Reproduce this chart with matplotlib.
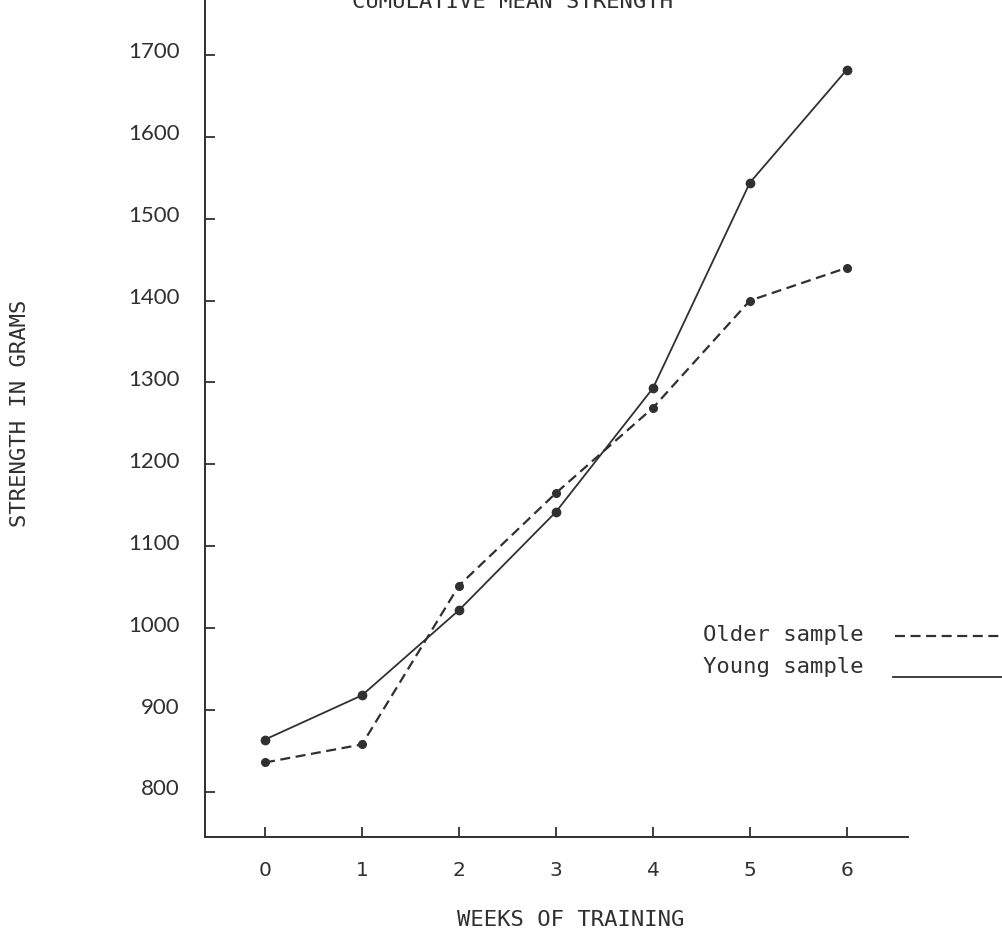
import matplotlib
matplotlib.use("Agg")
import matplotlib.pyplot as plt
from matplotlib.lines import Line2D
import matplotlib.transforms as mtransforms

# ---- data ----
weeks = [0, 1, 2, 3, 4, 5, 6]
young = [864, 918, 1022, 1142, 1293, 1544, 1682]
older = [836, 858, 1052, 1165, 1269, 1400, 1440]
y_ticks = [800, 900, 1000, 1100, 1200, 1300, 1400, 1500, 1600, 1700]
x_tick_labels = ["0", "1", "2", "3", "4", "5", "6"]
y_tick_labels = ["800", "900", "1000", "1100", "1200", "1300", "1400", "1500", "1600", "1700"]
title = "CUMULATIVE MEAN STRENGTH"
x_label = "WEEKS OF TRAINING"
y_label = "STRENGTH IN GRAMS"
series_labels = ["Older sample", "Young sample"]

W, H = 1003, 934
ink = "#303030"
mono = "DejaVu Sans Mono"

fig = plt.figure(figsize=(W / 100, H / 100), dpi=100)
fig.patch.set_facecolor("white")
ax = fig.add_axes([205 / W, (H - 837) / H, (908 - 205) / W, 837 / H])

young_style = dict(color=ink, lw=1.3, ls="-")
older_style = dict(color=ink, lw=1.6, ls=(0, (4.5, 2.5)))

ax.plot(weeks, young, marker="o", ms=6, **young_style, clip_on=False)
ax.plot(weeks, older, marker="o", ms=5.5, **older_style, clip_on=False)

ax.set_xlim(-0.619, 6.63)
ax.set_ylim(745, 1767)

for s in ("top", "right"):
    ax.spines[s].set_visible(False)
for s in ("left", "bottom"):
    ax.spines[s].set_color(ink)
    ax.spines[s].set_linewidth(1.4)

ax.set_xticks(weeks)
ax.set_xticklabels(x_tick_labels, family="DejaVu Sans", fontsize=14.5, color=ink)
ax.set_yticks(y_ticks)
ax.set_yticklabels(y_tick_labels, family="Lato", fontsize=16, color=ink)
ax.tick_params(axis="both", direction="in", length=7, width=1.3, color=ink)
ax.tick_params(axis="x", pad=17)
ax.tick_params(axis="y", pad=18)

# y tick labels sit slightly above their ticks in the original
off = mtransforms.ScaledTranslation(0, 4.5 / 100, fig.dpi_scale_trans)
for lab in ax.get_yticklabels():
    lab.set_transform(lab.get_transform() + off)

ax.set_xlabel(x_label, family=mono, fontsize=16, color=ink)
ax.xaxis.label.set_verticalalignment("center")
ax.xaxis.set_label_coords((571 - 205) / 703, (837 - 920) / 837)
ax.set_ylabel(y_label, family=mono, fontsize=16, color=ink)
ax.yaxis.label.set_verticalalignment("center")
ax.yaxis.label.set_horizontalalignment("center")
ax.yaxis.set_label_coords((20 - 205) / 703, (837 - 413) / 837)

ax.set_title(title, x=(513 - 205) / 703, y=(837 - 8) / 837, pad=0,
             family=mono, fontsize=16, color=ink, va="baseline")

# ---- legend (labels left, line samples right) ----
fig.text(703 / W, 1 - 635 / H, series_labels[0], family=mono, fontsize=16,
         color=ink, va="center", ha="left")
fig.text(703 / W, 1 - 667 / H, series_labels[1], family=mono, fontsize=16,
         color=ink, va="center", ha="left")
fig.add_artist(Line2D([895 / W, 1003 / W], [1 - 636 / H, 1 - 636 / H],
                      transform=fig.transFigure, **older_style))
fig.add_artist(Line2D([893 / W, 1003 / W], [1 - 677 / H, 1 - 677 / H],
                      transform=fig.transFigure, **young_style))

fig.savefig("out.png", dpi=100, facecolor="white")
